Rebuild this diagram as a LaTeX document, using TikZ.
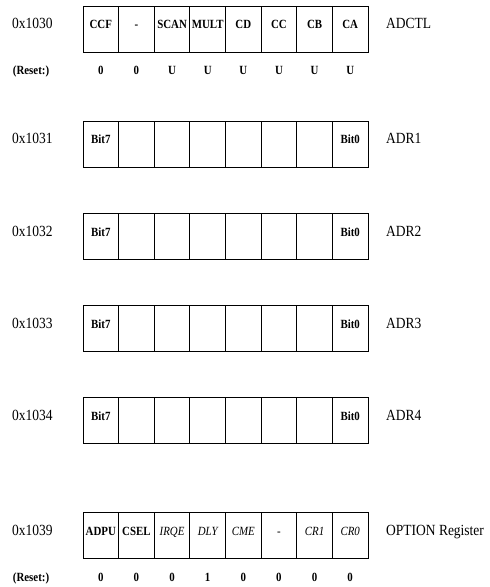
\documentclass[tikz,border=0pt]{standalone}
\usepackage{fontspec}
\setmainfont{Liberation Serif}[FakeStretch=0.87]
\usepackage{tikz}
\newcommand{\regfont}{\fontsize{15.5bp}{18bp}\selectfont}
\newcommand{\bitfont}{\fontsize{12.5bp}{14bp}\selectfont}

\begin{document}
\begin{tikzpicture}[
 x=1bp,y=-1bp,
 cell/.style={draw,line width=0.8bp,minimum width=35.6bp,minimum height=46bp,inner sep=0pt,text height=9bp,text depth=9bp,font=\bitfont},
 addr/.style={anchor=base west,inner sep=0pt,font=\regfont},
 rst/.style={anchor=base,inner sep=0pt,font=\bitfont\bfseries}
]
\useasboundingbox (0,0) rectangle (490,587);
\node[addr] (a0) at (12,29) {0x1030};
\foreach \t [count=\i from 0] in {CCF,-,SCAN,MULT,CD,CC,CB,CA}
  \node[cell] (c0\i) at ({83+35.625*(\i+0.5)},29) {\bfseries\t};
\node[addr] (n0) at (386,29) {ADCTL};
\node[rst,anchor=base west] (s0) at (12.7,75) {(Reset:)};
\foreach \v [count=\i from 0] in {0,0,U,U,U,U,U,U}
  \node[rst] (v0\i) at ({83+35.625*(\i+0.5)},75) {\v};
\foreach \y/\r in {144/1,236/2,328/3,420/4}{
  \node[addr] (a\r) at (12,\y) {0x103\r};
  \foreach \t [count=\i from 0] in {Bit7,,,,,,,Bit0}
    \node[cell] (c\r\i) at ({83+35.625*(\i+0.5)},\y) {\bfseries\t};
  \node[addr] (n\r) at (386,\y) {ADR\r};
}
\node[addr] (a5) at (12,535) {0x1039};
\foreach \t [count=\i from 0] in {\bfseries ADPU,\bfseries CSEL,\itshape IRQE,\itshape DLY,\itshape CME,-,\itshape CR1,\itshape CR0}
  \node[cell] (c5\i) at ({83+35.625*(\i+0.5)},535) {\t};
\node[addr] (n5) at (386,535) {OPTION Register};
\node[rst,anchor=base west] (s5) at (12.7,581) {(Reset:)};
\foreach \v [count=\i from 0] in {0,0,0,1,0,0,0,0}
  \node[rst] (v5\i) at ({83+35.625*(\i+0.5)},581) {\v};
\end{tikzpicture}
\end{document}
